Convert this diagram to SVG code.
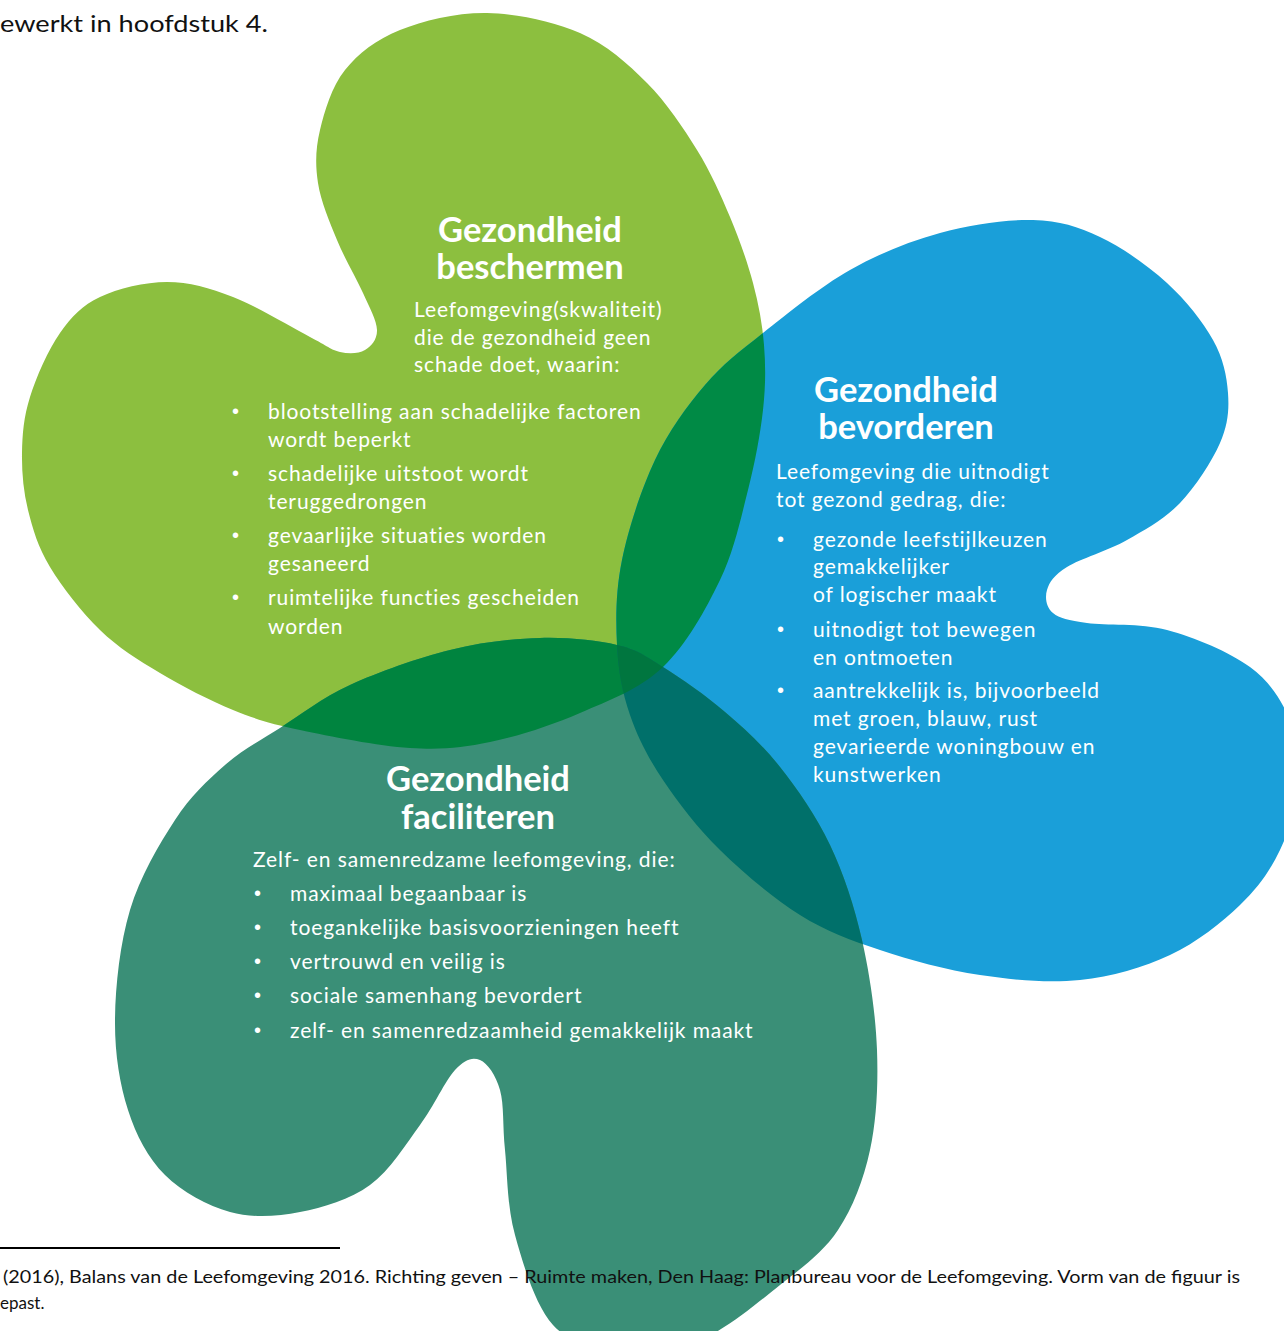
<svg xmlns="http://www.w3.org/2000/svg" width="1284" height="1331" viewBox="0 0 1284 1331">
<style>
.t{font-family:Lato,"Open Sans","Liberation Sans",sans-serif;fill:#fff;font-size:21px;letter-spacing:0.9px}
.h{font-family:Lato,"Open Sans","Liberation Sans",sans-serif;fill:#fff;font-size:34.5px;font-weight:bold;text-anchor:middle}
.b{font-family:"Liberation Sans",sans-serif;fill:#fff;font-size:20px}
.k{font-family:Lato,"Liberation Sans",sans-serif;fill:#111;}
</style>
<defs>
<path id="pg" d="M487,13 C517,13.5 553.3,21.3 580,33 S627.5,63.5 647,83 S683.2,127.7 697,150 S720.7,194.8 730,217 S747.3,261.7 753,283 S762.3,323.8 764,345 S765.7,385.8 763,410 S755.2,461.7 748,490 S734.2,550.5 720,580 S686.3,644.8 663,667 S608.8,700.5 580,713 S518.3,736.2 490,742 S441.7,750 410,748 S329.5,736.3 300,730 S256.3,719.5 233,710 S182.2,686.3 160,673 S118.3,647.7 100,630 S62,587 50,567 S32.7,529 28,510 S21.7,471.8 22,453 S23.7,417 30,397 S48.3,349.7 60,333 S82.2,305.5 100,297 S144.8,282 167,282 S209.2,287.8 233,297 S292.2,327.8 310,337 S330.8,349.8 340,352 S358.8,353.7 365,350 S377.3,339.5 377,330 S369.7,308 363,293 S344.5,258.3 337,240 S320.8,201.3 318,183 S315.5,148.8 320,130 S331.7,86.7 345,70 S376.3,39.5 400,30 S457,12.5 487,13 Z"/>
<path id="pb" d="M1033,220 C1059.7,220.7 1077.7,226.5 1100,237 S1148.2,265.8 1167,283 S1202.8,321.7 1213,340 S1226.8,375.8 1228,393 S1228,424.7 1220,443 S1195.5,486.8 1180,503 S1145.8,529.3 1127,540 S1080.3,558.7 1067,567 S1049.3,582.3 1047,590 S1046.3,607.5 1053,613 S1068,620.2 1087,623 S1139.8,622.7 1167,630 S1229.5,652 1250,667 S1281.7,701.2 1290,720 S1301.7,758.3 1300,780 S1290,829.2 1280,850 S1258.3,887.5 1240,905 S1196.7,942.5 1170,955 S1111.7,976.7 1080,980 S1013.3,980 980,975 S910,960 880,950 S826.7,931.7 800,915 S742.8,872.5 720,850 S678,802.5 663,780 S637.7,737.5 630,715 S618.3,670.8 617,645 S615.7,590.8 622,560 S641.2,489.2 655,460 S687,406.2 705,385 S738.8,352.2 763,333 S820.5,286.7 850,270 S909.5,241.3 940,233 S1006.3,219.3 1033,220 Z"/>
<path id="pt" d="M280,728 C300.8,714.7 321.7,698 350,685 S418.3,657.8 450,650 S512.2,638.8 540,638 S596.5,640.2 617,645 S645,655.8 663,667 S705.5,695.3 725,712 S762.5,744.8 780,767 S816.3,816.2 830,845 S854.2,905.8 862,940 S875.7,1015 877,1050 S876.5,1120 870,1150 S853,1207.5 838,1230 S803,1266.7 780,1285 S726.7,1329.2 700,1340 S644.5,1352.5 620,1350 S570.5,1344.2 553,1325 S523,1264.2 515,1235 S507.5,1174.2 505,1150 S504.2,1105 500,1090 S487.5,1063.3 480,1060 S465,1059.2 455,1070 S434.2,1105.8 420,1125 S390,1170.5 370,1185 S323.3,1207.5 300,1212 S252.5,1218.2 230,1212 S182,1192 165,1175 S136.3,1135.8 128,1110 S114.7,1053.3 115,1020 S120,943.3 130,910 S159.2,844.2 175,820 S207.5,780.3 225,765 S259.2,741.3 280,728 Z"/>
<clipPath id="cg"><use href="#pg"/></clipPath>
<clipPath id="cb"><use href="#pb"/></clipPath>
</defs>

<g id="shapes">
<use href="#pg" fill="#8CBF3F"/>
<use href="#pb" fill="#1A9FD9"/>
<use href="#pt" fill="#3A8F77"/>
</g>
<g id="overlaps">
<use href="#pb" fill="#008A45" clip-path="url(#cg)"/>
<use href="#pt" fill="#00843F" clip-path="url(#cg)"/>
<use href="#pt" fill="#00706A" clip-path="url(#cb)"/>
<g clip-path="url(#cg)"><use href="#pt" fill="#00763F" clip-path="url(#cb)"/></g>
</g>
<g id="connectors"></g>

<g id="node-beschermen">
<text class="h" x="530" y="242">Gezondheid</text>
<text class="h" x="530" y="279">beschermen</text>
<text class="t" x="414" y="317">Leefomgeving(skwaliteit)</text>
<text class="t" x="414" y="345">die de gezondheid geen</text>
<text class="t" x="414" y="372">schade doet, waarin:</text>
<text class="b" x="232" y="418">•</text>
<text class="t" x="268" y="419">blootstelling aan schadelijke factoren</text>
<text class="t" x="268" y="447">wordt beperkt</text>
<text class="b" x="232" y="480">•</text>
<text class="t" x="268" y="481">schadelijke uitstoot wordt</text>
<text class="t" x="268" y="509">teruggedrongen</text>
<text class="b" x="232" y="542">•</text>
<text class="t" x="268" y="543">gevaarlijke situaties worden</text>
<text class="t" x="268" y="571">gesaneerd</text>
<text class="b" x="232" y="604">•</text>
<text class="t" x="268" y="605">ruimtelijke functies gescheiden</text>
<text class="t" x="268" y="634">worden</text>
</g>

<g id="node-bevorderen">
<text class="h" x="906" y="402">Gezondheid</text>
<text class="h" x="906" y="439">bevorderen</text>
<text class="t" x="776" y="479">Leefomgeving die uitnodigt</text>
<text class="t" x="776" y="507">tot gezond gedrag, die:</text>
<text class="b" x="777" y="546">•</text>
<text class="t" x="813" y="547">gezonde leefstijlkeuzen</text>
<text class="t" x="813" y="574">gemakkelijker</text>
<text class="t" x="813" y="602">of logischer maakt</text>
<text class="b" x="777" y="636">•</text>
<text class="t" x="813" y="637">uitnodigt tot bewegen</text>
<text class="t" x="813" y="665">en ontmoeten</text>
<text class="b" x="777" y="697">•</text>
<text class="t" x="813" y="698">aantrekkelijk is, bijvoorbeeld</text>
<text class="t" x="813" y="726">met groen, blauw, rust</text>
<text class="t" x="813" y="754">gevarieerde woningbouw en</text>
<text class="t" x="813" y="782">kunstwerken</text>
</g>

<g id="node-faciliteren">
<text class="h" x="478" y="791">Gezondheid</text>
<text class="h" x="478" y="829">faciliteren</text>
<text class="t" x="253" y="867">Zelf- en samenredzame leefomgeving, die:</text>
<text class="b" x="254" y="900">•</text>
<text class="t" x="290" y="901">maximaal begaanbaar is</text>
<text class="b" x="254" y="934">•</text>
<text class="t" x="290" y="935">toegankelijke basisvoorzieningen heeft</text>
<text class="b" x="254" y="968">•</text>
<text class="t" x="290" y="969">vertrouwd en veilig is</text>
<text class="b" x="254" y="1002">•</text>
<text class="t" x="290" y="1003">sociale samenhang bevordert</text>
<text class="b" x="254" y="1037">•</text>
<text class="t" x="290" y="1038">zelf- en samenredzaamheid gemakkelijk maakt</text>
</g>

<g id="page-text">
<text class="k" x="0" y="32" font-size="24" textLength="268" lengthAdjust="spacingAndGlyphs">ewerkt in hoofdstuk 4.</text>
<line x1="0" y1="1248" x2="340" y2="1248" stroke="#000" stroke-width="2"/>
<text class="k" x="3" y="1283" font-size="17" textLength="1237" lengthAdjust="spacingAndGlyphs">(2016), Balans van de Leefomgeving 2016. Richting geven – Ruimte maken, Den Haag: Planbureau voor de Leefomgeving. Vorm van de figuur is</text>
<text class="k" x="0" y="1309" font-size="17">epast.</text>
</g>
</svg>
